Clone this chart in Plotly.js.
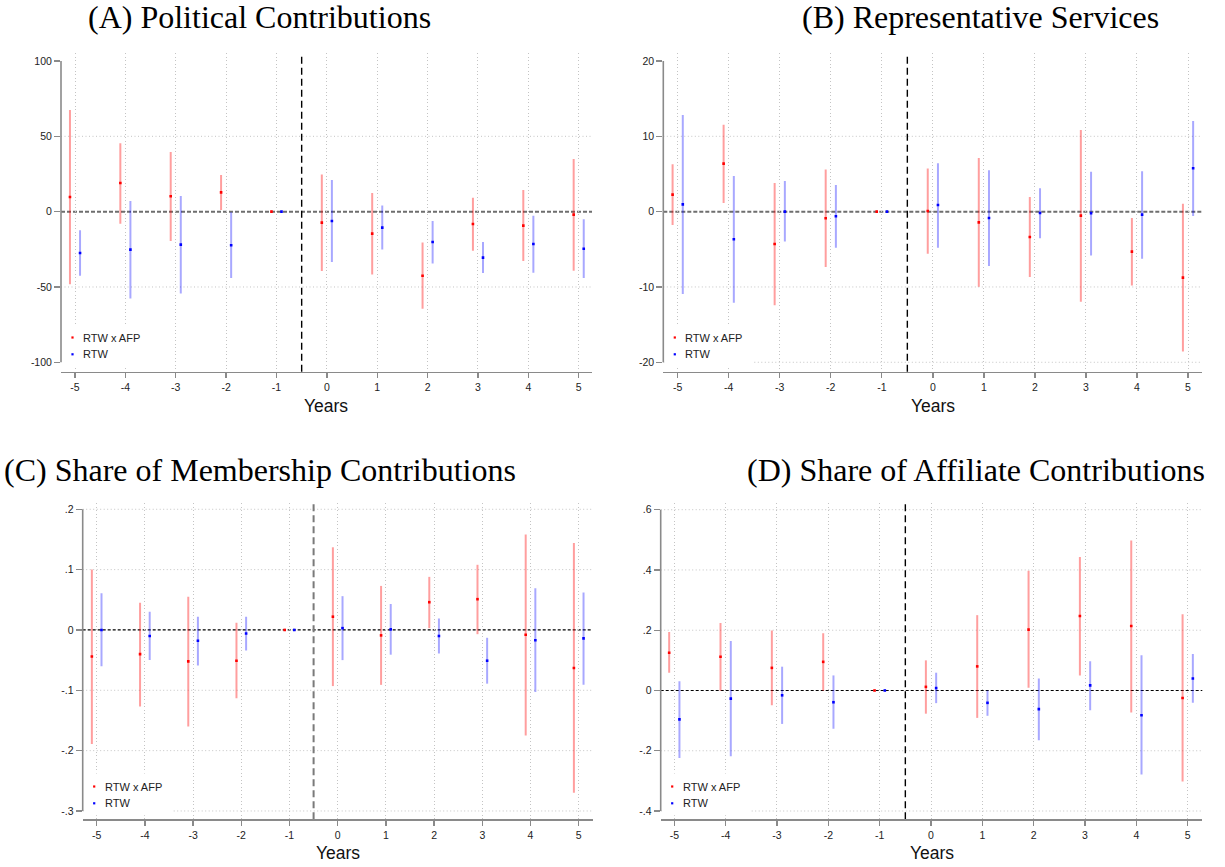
<!DOCTYPE html>
<html><head><meta charset="utf-8">
<script src="https://cdn.plot.ly/plotly-3.0.1.min.js"></script>
<style>html,body{margin:0;padding:0;background:#fff}</style>
</head><body><div id="chart" style="width:1225px;height:867px"></div>
<script>
// ---------- data ----------
const years = [-5, -4, -3, -2, -1, 0, 1, 2, 3, 4, 5];
const yearLabels = ['-5', '-4', '-3', '-2', '-1', '0', '1', '2', '3', '4', '5'];
const seriesNames = ['RTW x AFP', 'RTW'];

// (A) Political Contributions
const polAfpEst = [9.7, 19.0, 10.2, 12.8, 0, -7.3, -14.6, -42.5, -8.2, -9.3, -2.0];
const polAfpLo  = [-48.2, -8.0, -19.5, 1.1, 0, -39.4, -41.8, -64.4, -25.9, -32.7, -39.2];
const polAfpHi  = [67.5, 45.4, 39.6, 24.3, 0, 24.6, 12.4, -20.4, 9.3, 14.4, 35.0];
const polRtwEst = [-27.4, -25.2, -21.9, -22.3, 0, -6.2, -10.6, -20.1, -30.5, -21.5, -24.6];
const polRtwLo  = [-42.5, -57.7, -54.4, -44.0, 0, -33.4, -25.2, -34.5, -40.7, -40.5, -44.0];
const polRtwHi  = [-12.4, 7.1, 10.4, -0.4, 0, 21.0, 4.0, -6.2, -20.1, -2.7, -5.1];
const polTicks  = [-100, -50, 0, 50, 100];
const polTickLabels = ['-100', '-50', '0', '50', '100'];
const polGrid   = [-50, 50];

// (B) Representative Services
const repAfpEst = [2.26, 6.37, -4.29, -0.88, 0, 0.09, -1.42, -3.36, -0.53, -5.31, -8.76];
const repAfpLo  = [-1.77, 1.15, -12.43, -7.35, 0, -5.58, -9.96, -8.67, -11.95, -9.82, -18.58];
const repAfpHi  = [6.28, 11.55, 3.81, 5.58, 0, 5.71, 7.12, 1.95, 10.84, -0.84, 1.06];
const repRtwEst = [0.97, -3.67, 0.0, -0.62, 0, 0.88, -0.84, -0.18, -0.22, -0.40, 5.75];
const repRtwLo  = [-10.93, -12.08, -3.98, -4.78, 0, -4.78, -7.21, -3.54, -5.84, -6.24, -0.58];
const repRtwHi  = [12.83, 4.73, 4.07, 3.54, 0, 6.42, 5.49, 3.10, 5.31, 5.35, 12.04];
const repTicks  = [-20, -10, 0, 10, 20];
const repTickLabels = ['-20', '-10', '0', '10', '20'];
const repGrid   = [-20, -10, 10];

// (C) Share of Membership Contributions
const memAfpEst = [-0.044, -0.040, -0.052, -0.051, 0, 0.022, -0.009, 0.046, 0.051, -0.008, -0.063];
const memAfpLo  = [-0.189, -0.127, -0.160, -0.113, 0, -0.093, -0.091, 0.003, -0.007, -0.175, -0.270];
const memAfpHi  = [0.100, 0.045, 0.055, 0.012, 0, 0.137, 0.073, 0.088, 0.108, 0.158, 0.144];
const memRtwEst = [0.000, -0.010, -0.018, -0.006, 0, 0.003, 0.001, -0.010, -0.051, -0.017, -0.014];
const memRtwLo  = [-0.060, -0.050, -0.059, -0.034, 0, -0.050, -0.041, -0.039, -0.089, -0.103, -0.091];
const memRtwHi  = [0.061, 0.030, 0.022, 0.022, 0, 0.056, 0.043, 0.019, -0.013, 0.069, 0.062];
const memTicks  = [-0.3, -0.2, -0.1, 0, 0.1, 0.2];
const memTickLabels = ['-.3', '-.2', '-.1', '0', '.1', '.2'];
const memGrid   = [-0.3, -0.2, -0.1, 0.1, 0.2];

// (D) Share of Affiliate Contributions
const affAfpEst = [0.125, 0.112, 0.075, 0.095, 0, 0.012, 0.080, 0.202, 0.247, 0.214, -0.025];
const affAfpLo  = [0.059, -0.001, -0.049, -0.001, 0, -0.077, -0.091, 0.009, 0.050, -0.073, -0.302];
const affAfpHi  = [0.194, 0.224, 0.199, 0.190, 0, 0.100, 0.250, 0.397, 0.443, 0.498, 0.253];
const affRtwEst = [-0.096, -0.027, -0.016, -0.039, 0, 0.008, -0.041, -0.062, 0.017, -0.082, 0.040];
const affRtwLo  = [-0.224, -0.218, -0.111, -0.127, 0, -0.042, -0.084, -0.165, -0.066, -0.279, -0.041];
const affRtwHi  = [0.031, 0.164, 0.079, 0.050, 0, 0.059, 0.000, 0.040, 0.097, 0.117, 0.121];
const affTicks  = [-0.4, -0.2, 0, 0.2, 0.4, 0.6];
const affTickLabels = ['-.4', '-.2', '0', '.2', '.4', '.6'];
const affGrid   = [-0.4, -0.2, 0.2, 0.4, 0.6];

// ---------- layout helpers ----------
const W = 1225, H = 867;
const px = v => v / W;
const py = v => 1 - v / H;

const panels = [
  { title: '(A) Political Contributions', tx: 259, ty: 17,
    box: [61, 592, 53, 371.7], xr: [-5.278, 5.264], yr: [-106.24, 105.31],
    afp: [polAfpEst, polAfpLo, polAfpHi], rtw: [polRtwEst, polRtwLo, polRtwHi],
    ticks: polTicks, labels: polTickLabels, grid: polGrid,
    zero: { color: '#6e6e6e', width: 2, dash: '4px,2px' },
    vline: { color: '#000000', width: 1.4, dash: '7px,4px' },
    legY: [337.5, 354.3] },
  { title: '(B) Representative Services', tx: 980, ty: 17,
    box: [663.3, 1201.7, 53, 371.7], xr: [-5.282, 5.268], yr: [-21.25, 21.06],
    afp: [repAfpEst, repAfpLo, repAfpHi], rtw: [repRtwEst, repRtwLo, repRtwHi],
    ticks: repTicks, labels: repTickLabels, grid: repGrid,
    zero: { color: '#6e6e6e', width: 2, dash: '4px,2px' },
    vline: { color: '#000000', width: 1.4, dash: '7px,4px' },
    legY: [337.5, 354.3] },
  { title: '(C) Share of Membership Contributions', tx: 260, ty: 470,
    box: [82.7, 592.7, 503, 819.3], xr: [-5.29, 5.29], yr: [-0.3138, 0.2104],
    afp: [memAfpEst, memAfpLo, memAfpHi], rtw: [memRtwEst, memRtwLo, memRtwHi],
    ticks: memTicks, labels: memTickLabels, grid: memGrid,
    zero: { color: '#000000', width: 1.2, dash: '3px,2px' },
    vline: { color: '#7a7a7a', width: 2, dash: '7px,4px' },
    legY: [786.5, 803.3] },
  { title: '(D) Share of Affiliate Contributions', tx: 976, ty: 470,
    box: [660.7, 1202.3, 503, 819.3], xr: [-5.265, 5.284], yr: [-0.4275, 0.6222],
    afp: [affAfpEst, affAfpLo, affAfpHi], rtw: [affRtwEst, affRtwLo, affRtwHi],
    ticks: affTicks, labels: affTickLabels, grid: affGrid,
    zero: { color: '#000000', width: 1.2, dash: '3px,2px' },
    vline: { color: '#000000', width: 1.4, dash: '7px,4px' },
    legY: [786.5, 803.3] }
];

const AXIS_GRAY = '#8a8a8a';
const GRID_GRAY = '#c4c4c4';
const GRID_DASH = '1px,2.5px';
const SANS = 'Liberation Sans, Arial, Helvetica, sans-serif';
const SERIF = 'Liberation Serif, Times New Roman, serif';
const seriesStyle = [
  { dx: -0.1, marker: '#ff0000', bar: 'rgba(255,0,0,0.38)' },
  { dx: 0.1, marker: '#0000ff', bar: 'rgba(0,0,255,0.34)' }
];

const data = [];
const layout = {
  width: W, height: H,
  margin: { l: 0, r: 0, t: 0, b: 0 },
  paper_bgcolor: '#ffffff', plot_bgcolor: '#ffffff',
  showlegend: false,
  shapes: [], annotations: []
};

panels.forEach((p, i) => {
  const n = i === 0 ? '' : String(i + 1);
  const xa = 'x' + n, ya = 'y' + n;
  const [l, r, t, b] = p.box;

  [p.afp, p.rtw].forEach((s, k) => {
    const [est, lo, hi] = s;
    const st = seriesStyle[k];
    data.push({
      type: 'scatter', mode: 'markers', xaxis: xa, yaxis: ya,
      name: seriesNames[k],
      x: years.map(v => v + st.dx),
      y: est,
      error_y: {
        type: 'data', symmetric: false,
        array: hi.map((h, j) => h - est[j]),
        arrayminus: lo.map((v, j) => est[j] - v),
        color: st.bar, thickness: 2, width: 0
      },
      marker: { symbol: 'square', size: 2.6, color: st.marker, line: { width: 0 } },
      hoverinfo: 'x+y'
    });
  });

  layout['xaxis' + n] = {
    domain: [px(l), px(r)], range: p.xr, anchor: ya,
    tickmode: 'array', tickvals: years, ticktext: yearLabels,
    ticks: 'outside', ticklen: 5, tickwidth: 1.3, tickcolor: AXIS_GRAY,
    showline: true, linecolor: AXIS_GRAY, linewidth: 1.6,
    showgrid: true, gridcolor: GRID_GRAY, griddash: GRID_DASH, gridwidth: 1,
    zeroline: false, fixedrange: true,
    tickfont: { family: SANS, size: 10.5, color: '#222' }
  };
  layout['yaxis' + n] = {
    domain: [py(b), py(t)], range: p.yr, anchor: xa,
    tickmode: 'array', tickvals: p.ticks, ticktext: p.labels,
    ticks: 'outside', ticklen: 6, tickwidth: 1.3, tickcolor: AXIS_GRAY,
    showline: false, showgrid: false, zeroline: false, fixedrange: true,
    tickfont: { family: SANS, size: 10.5, color: '#222' }
  };

  // horizontal dotted gridlines (below traces)
  p.grid.forEach(g => layout.shapes.push({
    type: 'line', layer: 'below', xref: xa + ' domain', yref: ya,
    x0: 0, x1: 1, y0: g, y1: g,
    line: { color: GRID_GRAY, width: 1, dash: GRID_DASH }
  }));
  // zero reference line
  layout.shapes.push({
    type: 'line', layer: 'below', xref: xa + ' domain', yref: ya,
    x0: 0, x1: 1, y0: 0, y1: 0, line: p.zero
  });
  // treatment line between -1 and 0
  layout.shapes.push({
    type: 'line', layer: 'below', xref: xa, yref: ya + ' domain',
    x0: -0.5, x1: -0.5, y0: 0, y1: 1, line: p.vline
  });
  // y axis line spanning the tick range
  layout.shapes.push({
    type: 'line', layer: 'above', xref: 'paper', yref: ya,
    x0: px(l), x1: px(l), y0: p.ticks[0], y1: p.ticks[p.ticks.length - 1],
    line: { color: AXIS_GRAY, width: 1.6 }
  });
  // legend box (white) and legend keys
  layout.shapes.push({
    type: 'rect', layer: 'above', xref: 'paper', yref: 'paper',
    x0: px(l + 2), x1: px(l + 90), y0: py(b - 4), y1: py(p.legY[0] - 13),
    fillcolor: '#ffffff', line: { width: 0 }
  });
  seriesNames.forEach((name, k) => {
    const cy = p.legY[k];
    layout.shapes.push({
      type: 'rect', layer: 'above', xref: 'paper', yref: 'paper',
      x0: px(l + 10.4), x1: px(l + 12.6), y0: py(cy + 1.1), y1: py(cy - 1.1),
      fillcolor: seriesStyle[k].marker, line: { width: 0 }
    });
    layout.annotations.push({
      xref: 'paper', yref: 'paper', x: px(l + 20), y: py(cy),
      xanchor: 'left', yanchor: 'middle', showarrow: false,
      text: name, font: { family: SANS, size: 11, color: '#222' }
    });
  });

  // panel title
  layout.annotations.push({
    xref: 'paper', yref: 'paper', x: px(p.tx), y: py(p.ty),
    xanchor: 'center', yanchor: 'middle', showarrow: false,
    text: p.title, font: { family: SERIF, size: 32, color: '#000' }
  });
  // x axis title
  layout.annotations.push({
    xref: 'paper', yref: 'paper', x: px((l + r) / 2), y: py(b + 34),
    xanchor: 'center', yanchor: 'middle', showarrow: false,
    text: 'Years', font: { family: SANS, size: 17.5, color: '#111' }
  });
});

Plotly.newPlot('chart', data, layout, { displayModeBar: false, staticPlot: true });
</script>
</body></html>
